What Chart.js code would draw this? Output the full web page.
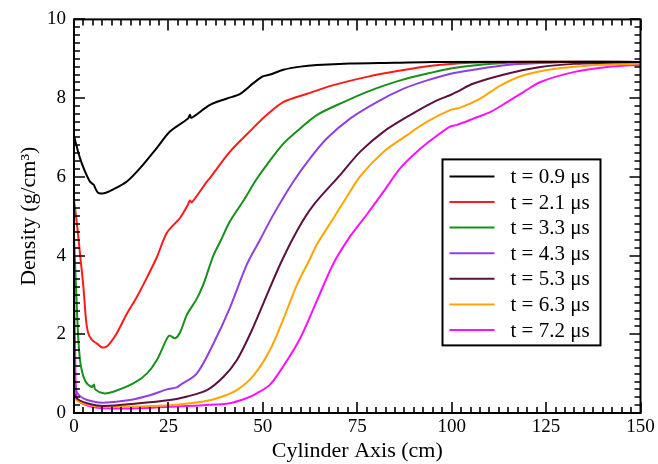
<!DOCTYPE html>
<html>
<head>
<meta charset="utf-8">
<script src="https://cdn.jsdelivr.net/npm/chart.js@4.4.1/dist/chart.umd.min.js"></script>
<style>
  html, body { margin: 0; padding: 0; background: #fff; }
  canvas { display: block; }
</style>
</head>
<body>
<canvas id="chart" width="658" height="464"></canvas>
<script>
// density profiles along the cylinder axis, [cm, g/cm^3]
const t09 = [[0,7.05],[0.5,6.85],[1.6,6.47],[2.9,6.14],[4.2,5.88],[5.2,5.8],[5.6,5.72],[6.4,5.59],[8.2,5.59],[10.4,5.68],[14,5.88],[17.5,6.22],[21.9,6.73],[25.4,7.15],[30.2,7.48],[30.7,7.58],[31.1,7.5],[36,7.83],[40.5,7.99],[44,8.11],[47.5,8.38],[50,8.55],[52,8.6],[55.4,8.72],[60,8.8],[64.3,8.84],[73,8.88],[85,8.9],[95,8.92],[150,8.92]]
const t21 = [[0,5.4],[0.7,4.87],[1.6,4.04],[2.5,3.19],[3.2,2.35],[3.8,2.02],[4.8,1.85],[6,1.77],[7.3,1.67],[8.5,1.68],[9.5,1.77],[11.3,2.02],[14,2.52],[16.6,2.94],[19.3,3.44],[21.9,3.95],[24.6,4.58],[28.1,4.96],[30.2,5.3],[30.7,5.4],[31.2,5.35],[35.2,5.88],[36,5.97],[41.3,6.64],[47,7.2],[51,7.57],[55.4,7.9],[61.7,8.11],[68.7,8.33],[77.6,8.54],[86.4,8.7],[95.2,8.83],[105,8.9],[115,8.92],[150,8.92]]
const t33 = [[0,4.5],[0.9,2.35],[1.6,1.34],[2.9,0.83],[4.7,0.66],[5.3,0.72],[5.6,0.6],[7.8,0.5],[10.4,0.54],[15.7,0.75],[19.3,1.0],[21.9,1.34],[24.6,1.89],[25.3,1.97],[26.8,1.9],[28.1,2.05],[29.9,2.5],[32.5,2.9],[34.3,3.28],[36.9,4.0],[38.7,4.35],[41.3,4.87],[44.9,5.4],[48.4,5.95],[51,6.3],[55.5,6.85],[59.9,7.23],[64.3,7.57],[71.4,7.9],[77.6,8.16],[86.4,8.45],[95.2,8.66],[99.7,8.75],[105.8,8.83],[114.7,8.9],[125,8.92],[150,8.92]]
const t43 = [[0,1.0],[0.7,0.54],[2.5,0.37],[5.1,0.29],[7.8,0.26],[14.8,0.33],[20.1,0.45],[24.6,0.6],[27.2,0.65],[28.1,0.71],[32.5,1.0],[36.9,1.76],[41.3,2.68],[45.8,3.78],[49.3,4.41],[52.8,5.04],[58.1,5.88],[62.5,6.47],[67,6.98],[73.1,7.48],[80.2,7.9],[87.3,8.24],[93.5,8.45],[99.7,8.62],[105.8,8.72],[114.7,8.84],[123.5,8.89],[132,8.92],[150,8.92]]
const t53 = [[0,0.5],[1,0.35],[4.2,0.23],[7.8,0.18],[16.6,0.24],[25.4,0.33],[30,0.42],[35.2,0.58],[39.6,0.92],[43.1,1.34],[46.6,2.0],[50.2,2.8],[54.6,3.78],[59,4.62],[63.4,5.28],[70.5,6.05],[75.8,6.64],[82,7.15],[89,7.57],[95.2,7.9],[99.7,8.08],[101.4,8.16],[105.8,8.37],[114.7,8.62],[123.5,8.79],[132.3,8.87],[141.2,8.9],[150,8.92]]
const t63 = [[0,0.4],[1,0.3],[4,0.2],[7.8,0.16],[25.4,0.2],[34.3,0.29],[38.7,0.4],[43.1,0.58],[47.5,0.95],[51.9,1.6],[55.5,2.4],[59,3.25],[62.5,3.92],[64.3,4.28],[68.7,4.95],[72.3,5.5],[75.8,6.02],[82,6.64],[88.2,7.06],[93.5,7.4],[99.7,7.7],[102.3,7.76],[107.6,7.99],[112.9,8.32],[119.1,8.58],[127.9,8.75],[136.8,8.83],[150,8.88]]
const t72 = [[0,3.6],[0.3,1.5],[0.7,0.4],[2,0.25],[5,0.15],[7.8,0.12],[16.6,0.12],[25.4,0.16],[34.3,0.2],[41.3,0.25],[45.8,0.38],[48.4,0.5],[51.9,0.72],[55.5,1.2],[59.9,1.9],[64.3,2.85],[68.7,3.8],[73.2,4.5],[77.6,5.05],[82,5.63],[86.4,6.22],[90.8,6.64],[95.2,6.98],[99.7,7.28],[101.4,7.32],[105.8,7.48],[110.3,7.65],[114.7,7.9],[119.1,8.16],[123.5,8.41],[132.3,8.66],[141.2,8.79],[150,8.85]]

const labels = ["t = 0.9 μs", "t = 2.1 μs", "t = 3.3 μs", "t = 4.3 μs", "t = 5.3 μs", "t = 6.3 μs", "t = 7.2 μs"]
const series = [t09, t21, t33, t43, t53, t63, t72]
const colors = ["#000000", "#ff1a1a", "#16901a", "#9040e0", "#5e1040", "#ffa500", "#ff10ff"]

const xTicks = [0, 25, 50, 75, 100, 125, 150]
const yTicks = [0, 2, 4, 6, 8, 10]

const SERIF = "'Liberation Serif', 'Times New Roman', serif"

// inward ticks on all four sides plus the frame
const frameTicks = {
  id: "frameTicks",
  afterDatasetsDraw(chart) {
    const { ctx, chartArea: a, scales: { x, y } } = chart
    ctx.save()
    ctx.strokeStyle = "#000"
    ctx.lineWidth = 1.6
    ctx.beginPath()
    for (let i = 0; i <= 60; i++) {
      const px = Math.round(x.getPixelForValue(i * 2.5))
      const len = i % 10 === 0 ? 11 : 6
      ctx.moveTo(px, a.bottom); ctx.lineTo(px, a.bottom - len)
      ctx.moveTo(px, a.top); ctx.lineTo(px, a.top + len)
    }
    for (let i = 0; i <= 50; i++) {
      const py = Math.round(y.getPixelForValue(i * 0.2))
      const len = i % 10 === 0 ? 11 : 6
      ctx.moveTo(a.left, py); ctx.lineTo(a.left + len, py)
      ctx.moveTo(a.right, py); ctx.lineTo(a.right - len, py)
    }
    ctx.stroke()
    ctx.lineWidth = 2
    ctx.strokeRect(a.left, a.top, a.width, a.height)
    ctx.restore()
  }
}

// boxed legend inside the plot
const boxLegend = {
  id: "boxLegend",
  afterDraw(chart) {
    const { ctx, chartArea: a } = chart
    const w = 158, h = 186
    const left = a.right - 40 - w
    const top = a.top + 140
    ctx.save()
    ctx.fillStyle = "#fff"
    ctx.fillRect(left, top, w, h)
    ctx.strokeStyle = "#000"
    ctx.lineWidth = 2
    ctx.strokeRect(left, top, w, h)
    ctx.font = "21px " + SERIF
    ctx.textBaseline = "middle"
    ctx.textAlign = "left"
    chart.data.datasets.forEach((ds, i) => {
      const cy = top + 17 + i * 25.6
      ctx.strokeStyle = ds.borderColor
      ctx.lineWidth = 2
      ctx.beginPath()
      ctx.moveTo(left + 7, cy); ctx.lineTo(left + 52, cy)
      ctx.stroke()
      ctx.fillStyle = "#000"
      ctx.fillText(ds.label, left + 68, cy + 1)
    })
    ctx.restore()
  }
}

new Chart(document.getElementById("chart"), {
  type: "line",
  data: {
    datasets: series.map((d, i) => ({
      label: labels[i],
      data: d,
      borderColor: colors[i],
      borderWidth: 2,
      pointRadius: 0,
      tension: 0.3,
      fill: false
    }))
  },
  options: {
    responsive: false,
    animation: false,
    events: [],
    layout: { padding: { left: 16, top: 17, right: 17.5, bottom: 0 } },
    scales: {
      x: {
        type: "linear",
        min: 0,
        max: 150,
        afterFit: s => { s.height = 51 },
        afterBuildTicks: s => { s.ticks = xTicks.map(v => ({ value: v })) },
        grid: { display: false, drawTicks: false },
        border: { display: false },
        ticks: { padding: 3, color: "#000", font: { family: SERIF, size: 19 } },
        title: {
          display: true,
          text: "Cylinder Axis (cm)",
          color: "#000",
          padding: { top: 2, bottom: 0 },
          font: { family: SERIF, size: 22 }
        }
      },
      y: {
        min: 0,
        max: 10,
        afterFit: s => { s.width = 58 },
        afterBuildTicks: s => { s.ticks = yTicks.map(v => ({ value: v })) },
        grid: { display: false, drawTicks: false },
        border: { display: false },
        ticks: { padding: 8, color: "#000", font: { family: SERIF, size: 19 } },
        title: {
          display: true,
          text: "Density (g/cm³)",
          color: "#000",
          padding: { top: 0, bottom: 0 },
          font: { family: SERIF, size: 22 }
        }
      }
    },
    plugins: {
      legend: { display: false },
      tooltip: { enabled: false }
    }
  },
  plugins: [frameTicks, boxLegend]
})
</script>
</body>
</html>
